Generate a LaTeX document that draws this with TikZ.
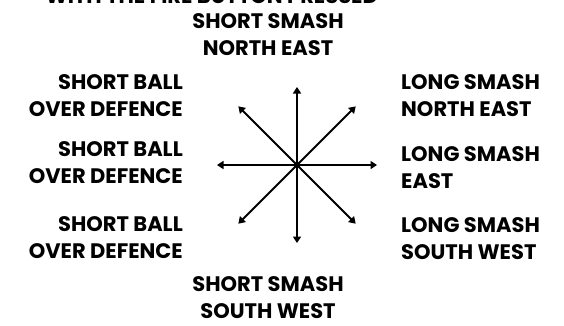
\documentclass[tikz,border=0pt]{standalone}
\usepackage{fontspec}
\setmainfont{Poppins}[UprightFont=* Bold]
\usetikzlibrary{arrows.meta,positioning}

\begin{document}
\begin{tikzpicture}[x=1pt,y=-1pt,>={Triangle[length=6.5pt,width=8pt]},
lbl/.style={font=\fontsize{21}{27}\selectfont,inner sep=0pt},
lft/.style={lbl,align=right,anchor=east},
rgt/.style={lbl,align=left,anchor=west},
mid/.style={lbl,align=center},
arr/.style={->,line width=1.8pt}]
\useasboundingbox (0,0) rectangle (564,325);
\clip (0,0) rectangle (564,325);
% clipped heading at the top edge
\node[lbl,anchor=base east] (head) at (378,3.5) {WITH THE FIRE BUTTON PRESSED};
\node[mid] (top) at (268,35) {SHORT SMASH\\NORTH EAST};
\node[mid] (bot) at (268,298) {SHORT SMASH\\SOUTH WEST};
\node[lft] (l1) at (183,96) {SHORT BALL\\OVER DEFENCE};
\node[lft] (l2) at (183,163) {SHORT BALL\\OVER DEFENCE};
\node[lft] (l3) at (183,238) {SHORT BALL\\OVER DEFENCE};
\node[rgt] (r1) at (401,96) {LONG SMASH\\NORTH EAST};
\node[rgt] (r2) at (401,168) {LONG SMASH\\EAST};
\node[rgt] (r3) at (401,239) {LONG SMASH\\SOUTH WEST};
% the eight directions
\node[circle,fill,inner sep=0pt,minimum size=6pt] (c) at (297,165) {};
\foreach \a/\r in {0/80,45/83,90/78,135/83,180/80,225/83,270/78,315/83}
  \coordinate (e\a) at ([shift={(\a:\r)}]c.center);
\foreach \a in {0,45,90,135,180,225,270,315}
  \draw[arr] (c.center) -- (e\a);
\end{tikzpicture}
\end{document}
